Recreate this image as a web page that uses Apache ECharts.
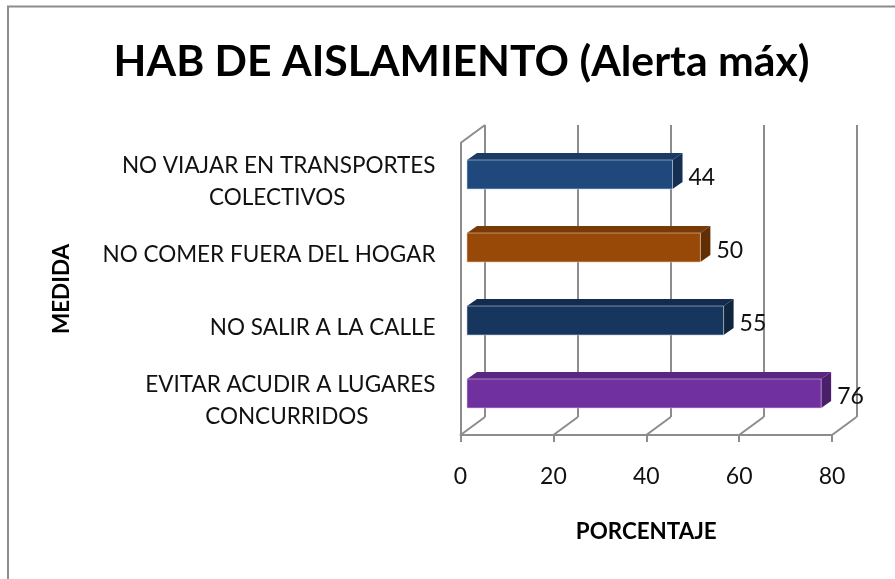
<!DOCTYPE html>
<html><head><meta charset="utf-8">
<style>html,body{margin:0;padding:0;background:#fff}#c{width:895px;height:579px}</style>
<script src="https://cdn.jsdelivr.net/npm/echarts@6/dist/echarts.min.js"></script>
</head><body><div id="c"></div>
<script>
const titleText = 'HAB DE AISLAMIENTO (Alerta máx)';
const categories = ['NO VIAJAR EN TRANSPORTES\nCOLECTIVOS','NO COMER FUERA DEL HOGAR','NO SALIR A LA CALLE','EVITAR ACUDIR A LUGARES\nCONCURRIDOS'];
const values = [44,50,55,76];
const ticks = [0,20,40,60,80];
const frontColors = ['#1F497D','#984807','#17365D','#7030A0'];
const topColors = ['#193B66','#7A3A05','#132C4D','#5A2682'];
const sideColors = ['#152F52','#622E04','#10263F','#4A1F6C'];
const edgeColors = ['#C6D0DF','#E3C9B2','#C0CAD8','#D8C4E6'];
const secondLinePad = {'COLECTIVOS':90,'CONCURRIDOS':67};

const chart = echarts.init(document.getElementById('c'));
const gridColor = '#8C8C8C', FONT = 'Lato';
const depthX = 24.5, depthY = 18, catSize = 22.5;

function barItem(params, api){
  const i = api.value(1), v = api.value(0);
  const p0 = api.coord([0,i]), p1 = api.coord([v,i]);
  const x0 = p0[0]+6.5, x1 = p1[0]+6.5+1.2, h = 29, yT = p0[1]-19.5, dx = 10, dy = 7;
  return {type:'group',children:[
    {type:'polygon',shape:{points:[[x0,yT],[x0+dx,yT-dy],[x1+dx,yT-dy],[x1,yT]]},style:{fill:topColors[i]}},
    {type:'polygon',shape:{points:[[x1,yT],[x1+dx,yT-dy],[x1+dx,yT+h-dy],[x1,yT+h]]},style:{fill:sideColors[i]}},
    {type:'rect',shape:{x:x0,y:yT,width:x1-x0,height:h},style:{fill:frontColors[i],stroke:edgeColors[i],lineWidth:1,strokeOpacity:0.6}},
    {type:'text',style:{x:x1+16,y:yT+h/2+3,text:String(v),fill:'#111',font:'23px '+FONT,textAlign:'left',textVerticalAlign:'middle'}}
  ]};
}
function floorItem(params, api){
  const v = api.value(0), cs = params.coordSys, p = api.coord([v,0]);
  const b = cs.y+cs.height;
  const ln = (x1,y1,x2,y2)=>({type:'line',shape:{x1,y1,x2,y2},style:{stroke:gridColor,lineWidth:2}});
  const ch = [ln(p[0],b,p[0]+depthX,b-depthY)];
  if (v===0) ch.push(ln(p[0],cs.y,p[0]+depthX,cs.y-depthY));
  return {type:'group',children:ch};
}

chart.setOption({
  animation:false,
  backgroundColor:'#fff',
  title:{text:titleText,left:456.5,top:36,textAlign:'center',textStyle:{fontFamily:FONT,fontWeight:'bold',fontSize:42.7,color:'#000'}},
  graphic:[{type:'rect',z:100,shape:{x:8,y:6.5,width:1000,height:700},style:{fill:'none',stroke:gridColor,lineWidth:2}}],
  grid:[
    {left:460.5,width:371.5,top:143,height:292},
    {left:485,width:372,top:125,height:292}
  ],
  xAxis:[
    {type:'value',gridIndex:0,min:0,max:80,interval:20,
     name:'PORCENTAJE',nameLocation:'middle',nameGap:86,
     nameTextStyle:{fontFamily:FONT,fontWeight:'bold',fontSize:22.4,color:'#000'},
     axisLine:{show:true,lineStyle:{color:gridColor,width:2}},
     axisTick:{show:true,length:7,lineStyle:{color:gridColor,width:2}},
     splitLine:{show:false},
     axisLabel:{fontFamily:FONT,fontSize:23,color:'#111',margin:30}},
    {type:'value',gridIndex:1,min:0,max:80,interval:20,
     axisLine:{show:false},axisTick:{show:false},axisLabel:{show:false},
     splitLine:{show:true,lineStyle:{color:gridColor,width:2}}}
  ],
  yAxis:[
    {type:'category',gridIndex:0,inverse:true,data:categories,
     name:'MEDIDA',nameLocation:'middle',nameGap:387,nameRotate:90,
     nameTextStyle:{fontFamily:FONT,fontWeight:'bold',fontSize:22.5,color:'#000'},
     axisLine:{show:true,lineStyle:{color:gridColor,width:2}},axisTick:{show:false},
     axisLabel:{margin:25,interval:0,lineHeight:32,color:'#111',
       fontFamily:FONT,fontSize:catSize,padding:[5,0,0,0],
       formatter:s=>{
         const p=s.split('\n');
         return p.length===1?'{a|'+p[0]+'}':'{a|'+p[0]+'}\n{'+p[1]+'|'+p[1]+'}';
       },
       rich:Object.assign({a:{fontFamily:FONT,fontSize:catSize,color:'#111',lineHeight:32}},
         Object.fromEntries(Object.entries(secondLinePad).map(([k,v])=>[k,{fontFamily:FONT,fontSize:catSize,color:'#111',lineHeight:32,padding:[0,v,0,0]}])))
     }},
    {type:'category',gridIndex:1,inverse:true,data:categories,show:false}
  ],
  series:[
    {type:'custom',xAxisIndex:0,yAxisIndex:0,z:1,silent:true,renderItem:floorItem,encode:{x:0},data:ticks.map(t=>[t])},
    {type:'custom',xAxisIndex:0,yAxisIndex:0,z:5,silent:true,renderItem:barItem,encode:{x:0,y:1},data:values.map((v,i)=>[v,i])}
  ]
});
</script></body></html>
